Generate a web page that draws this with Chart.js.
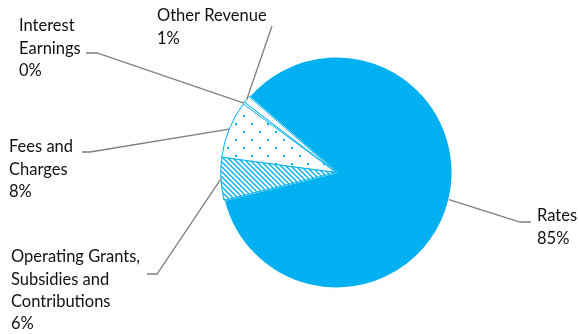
<!DOCTYPE html>
<html>
<head>
<meta charset="utf-8">
<script src="https://cdn.jsdelivr.net/npm/chart.js@4/dist/chart.umd.min.js"></script>
<style>
  html, body { margin: 0; padding: 0; background: #fff; }
  #wrap { width: 579px; height: 334px; }
</style>
</head>
<body>
<div id="wrap"><canvas id="pie" width="579" height="334"></canvas></div>
<script>
// categories (label lines) and values
const categories = [
    ['Rates'],
    ['Operating Grants,', 'Subsidies and', 'Contributions'],
    ['Fees and', 'Charges'],
    ['Interest', 'Earnings'],
    ['Other Revenue']
];
const values = [85, 6, 8, 0.3, 1];
const percentLabels = ['85%', '6%', '8%', '0%', '1%'];

const BLUE = '#00B0F0';

// where each callout sits (layout only)
const callouts = [
    { elbow: [520, 222], tail: [531, 222], text: [537, 216] },
    { elbow: [157, 274], tail: [147, 274], text: [11, 257] },
    { elbow: [90, 152],  tail: [82, 152],  text: [9, 147] },
    { elbow: [97, 53],   tail: [86, 53],   text: [19, 26] },
    { elbow: [272, 26],  tail: [272, 26],  text: [157, 16] }
];

function makePattern(kind) {
    const c = document.createElement('canvas');
    const ctx = c.getContext('2d');
    if (kind === 'hatch') {
        c.width = 5; c.height = 5;
        ctx.fillStyle = '#fff';
        ctx.fillRect(0, 0, 5, 5);
        ctx.strokeStyle = BLUE;
        ctx.lineWidth = 1.4;
        ctx.beginPath();
        ctx.moveTo(-1, -1); ctx.lineTo(6, 6);
        ctx.moveTo(-1, 4); ctx.lineTo(1, 6);
        ctx.moveTo(4, -1); ctx.lineTo(6, 1);
        ctx.stroke();
    } else {
        c.width = 16; c.height = 16;
        ctx.fillStyle = '#fff';
        ctx.fillRect(0, 0, 16, 16);
        ctx.fillStyle = BLUE;
        ctx.fillRect(3, 3, 2, 2);
        ctx.fillRect(11, 11, 2, 2);
    }
    return ctx.createPattern(c, 'repeat');
}

const calloutPlugin = {
    id: 'callouts',
    afterDraw(chart) {
        const ctx = chart.ctx;
        const arcs = chart.getDatasetMeta(0).data;
        ctx.save();
        ctx.font = '16.5px Lato, "Open Sans", sans-serif';
        ctx.textBaseline = 'middle';
        ctx.textAlign = 'left';
        arcs.forEach((arc, i) => {
            const p = arc.getProps(['x', 'y', 'startAngle', 'endAngle', 'outerRadius'], true);
            const mid = (p.startAngle + p.endAngle) / 2;
            const sx = p.x + Math.cos(mid) * p.outerRadius;
            const sy = p.y + Math.sin(mid) * p.outerRadius;
            const co = callouts[i];
            ctx.strokeStyle = '#7f7f7f';
            ctx.lineWidth = 1.3;
            ctx.beginPath();
            ctx.moveTo(sx, sy);
            ctx.lineTo(co.elbow[0], co.elbow[1]);
            ctx.lineTo(co.tail[0], co.tail[1]);
            ctx.stroke();

            ctx.fillStyle = '#111';
            const lines = categories[i].concat([percentLabels[i]]);
            lines.forEach((t, k) => {
                ctx.fillText(t, co.text[0], co.text[1] + k * 22.3);
            });
        });
        ctx.restore();
    }
};

new Chart(document.getElementById('pie'), {
    type: 'pie',
    data: {
        labels: categories,
        datasets: [{
            data: values,
            backgroundColor: [BLUE, makePattern('hatch'), makePattern('dots'), '#fff', '#fff'],
            borderColor: ['#fff', BLUE, BLUE, BLUE, BLUE],
            borderWidth: [1.5, 1, 1, 0.8, 1]
        }]
    },
    options: {
        responsive: false,
        animation: false,
        rotation: 311,
        layout: { padding: { left: 220, right: 126, top: 56, bottom: 45 } },
        plugins: {
            legend: { display: false },
            tooltip: { enabled: false }
        }
    },
    plugins: [calloutPlugin]
});
</script>
</body>
</html>
